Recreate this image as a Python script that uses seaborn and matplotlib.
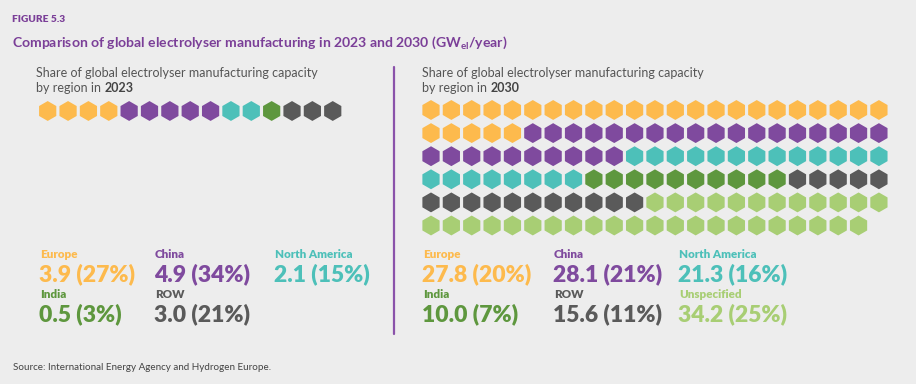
import pandas as pd
import matplotlib.pyplot as plt
import seaborn as sns

# Data
regions = ["Europe", "China", "North America", "India", "ROW", "Unspecified"]
colors = ["#FDBA4D", "#7F4A9E", "#4DC0B9", "#5E973E", "#5A5A5A", "#A8CE74"]

cap_2023 = [3.9, 4.9, 2.1, 0.5, 3.0]
share_2023 = [27, 34, 15, 3, 21]
hex_2023 = [4, 5, 2, 1, 3]

cap_2030 = [27.8, 28.1, 21.3, 10.0, 15.6, 34.2]
share_2030 = [20, 21, 16, 7, 11, 25]
hex_2030 = [28, 28, 21, 10, 16, 34]

bg = "#EDEDED"
purple = "#7B3F98"
grey = "#555555"

sns.set_theme(style="white")
plt.rcParams["font.family"] = ["Lato", "DejaVu Sans"]


def waffle(counts, ncols, x0, y0):
    rows = []
    i = 0
    for reg, n in zip(regions, counts):
        for _ in range(n):
            rows.append({"region": reg, "col": i % ncols, "row": i // ncols})
            i += 1
    df = pd.DataFrame(rows)
    df["x"] = x0 + df["col"] * 20.36
    df["y"] = y0 + df["row"] * 23.1
    return df


fig = plt.figure(figsize=(9.16, 3.84), dpi=100, facecolor=bg)
ax = fig.add_axes([0, 0, 1, 1])
ax.set_facecolor(bg)
ax.set_xlim(0, 916)
ax.set_ylim(384, 0)
ax.axis("off")

pal = dict(zip(regions, colors))
for df in [waffle(hex_2023, 15, 47.7, 111), waffle(hex_2030, 23, 431, 110)]:
    sns.scatterplot(data=df, x="x", y="y", hue="region", palette=pal,
                    marker="h", s=205, linewidth=0, legend=False, ax=ax)

# divider
ax.plot([394, 394], [67, 334], color="#8A52AA", lw=1.6)

# titles
ax.text(12, 19, "FIGURE 5.3", color=purple, fontsize=7.3, fontweight="heavy", va="center")
ax.text(12, 43, "Comparison of global electrolyser manufacturing in 2023 and 2030 (GW$\\mathregular{_{el}}$/year)",
        color=purple, fontsize=10.1, fontweight="bold", va="center")

for x, yr in [(36, "2023"), (422, "2030")]:
    ax.text(x, 73, "Share of global electrolyser manufacturing capacity", color=grey,
            fontsize=9, va="center")
    t = ax.text(x, 88, "by region in ", color=grey, fontsize=9, va="center")
    ax.annotate(yr, xycoords=t, xy=(1, 0.5), va="center", color="#444444",
                fontsize=9, fontweight="bold")

# legends
left_pos = [(40, 0), (155, 0), (275, 0), (40, 1), (155, 1)]
right_pos = [(423, 0), (554, 0), (679, 0), (423, 1), (554, 1), (679, 1)]


def legend(caps, shares, pos):
    for i, (c, s) in enumerate(zip(caps, shares)):
        x, r = pos[i]
        y = 255 + r * 40
        ax.text(x, y, regions[i], color=colors[i], fontsize=8.4, fontweight="heavy", va="center")
        ax.text(x - 1, y + 19, f"{c:.1f} ({s}%)", color=colors[i], fontsize=16.5,
                fontweight="heavy", va="center")


legend(cap_2023, share_2023, left_pos)
legend(cap_2030, share_2030, right_pos)

ax.text(13, 368, "Source: International Energy Agency and Hydrogen Europe.", color="#444444",
        fontsize=7.1, va="center")

fig.savefig("out.png", dpi=100, facecolor=bg)
